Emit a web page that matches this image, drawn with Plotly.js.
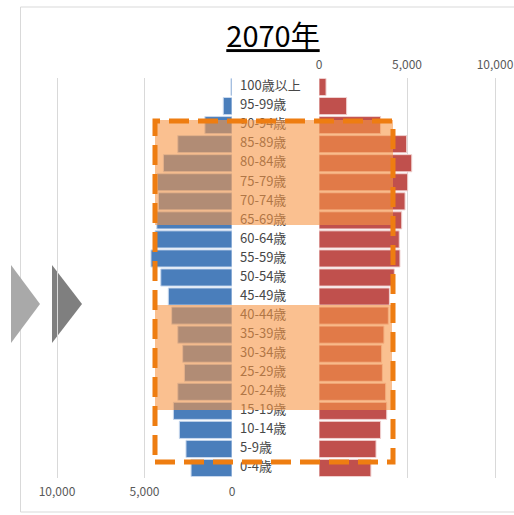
<!DOCTYPE html>
<html>
<head>
<meta charset="utf-8">
<script src="https://cdn.plot.ly/plotly-3.0.1.min.js"></script>
<style>html,body{margin:0;padding:0;background:#fff;}#chart{width:514px;height:515px;}</style>
</head>
<body>
<div id="chart"></div>
<script>
// Age groups, bottom to top
const ages = ['0-4歳','5-9歳','10-14歳','15-19歳','20-24歳','25-29歳','30-34歳','35-39歳','40-44歳','45-49歳','50-54歳','55-59歳','60-64歳','65-69歳','70-74歳','75-79歳','80-84歳','85-89歳','90-94歳','95-99歳','100歳以上'];
// Male population (left, blue)
const male = [2340,2630,3010,3350,3100,2720,2820,3100,3450,3640,4070,4630,4400,4300,4200,4270,3920,3100,1550,500,60];
// Female population (right, red)
const female = [2950,3240,3500,3850,3790,3600,3560,3690,3940,4000,4280,4600,4560,4700,4890,5040,5270,4980,3500,1570,400];
const maleTicks = [10000,5000,0];
const maleTickText = ['10,000','5,000','0'];
const femaleTicks = [0,5000,10000];
const femaleTickText = ['0','5,000','10,000'];
const title = '2070年';

const W = 514, H = 515;
const px = v => v / W;
const py = v => 1 - v / H;

const FONT = 'Noto Sans CJK JP, Noto Sans, sans-serif';

const traces = [
  {type:'bar', orientation:'h', y: ages, x: male, xaxis:'x', yaxis:'y',
   marker:{color:'#4a7ebb', line:{color:'#c9d9ee', width:1}}, hoverinfo:'skip'},
  {type:'bar', orientation:'h', y: ages, x: female, xaxis:'x2', yaxis:'y',
   marker:{color:'#c0504d', line:{color:'#f0d2d1', width:1}}, hoverinfo:'skip'},
  {type:'scatter', mode:'text', y: ages, x: ages.map(() => 240), xaxis:'x3', yaxis:'y',
   text: ages, textposition:'middle right', cliponaxis:false,
   textfont:{family:FONT, size:13, color:'#474747'}, hoverinfo:'skip'}
];

const yDom = [1 - 477.5 / H, 1 - 77.5 / H];

const layout = {
  width: W, height: H,
  margin:{l:0, r:0, t:0, b:0, pad:0},
  paper_bgcolor:'#fff', plot_bgcolor:'rgba(0,0,0,0)',
  showlegend:false,
  bargap:0.1,
  title:{text:'<u>' + title + '</u>', x: px(273), y: py(37), xanchor:'center', yanchor:'middle',
         font:{family:FONT, size:29, color:'#000'}},
  xaxis:{domain:[0, px(232)], range:[232/175*10000, 0], tickvals:maleTicks, ticktext:maleTickText,
         side:'bottom', showgrid:true, gridcolor:'#d9d9d9', zeroline:false, showline:false, ticks:'',
         ticklabelstandoff:5,
         tickfont:{family:FONT, size:12, color:'#595959'}, anchor:'y', fixedrange:true},
  xaxis2:{domain:[px(319), 1], range:[0, 195/176*10000], tickvals:femaleTicks, ticktext:femaleTickText,
          side:'top', showgrid:true, gridcolor:'#d9d9d9', zeroline:false, showline:false, ticks:'',
          ticklabelstandoff:5,
          tickfont:{family:FONT, size:12, color:'#595959'}, anchor:'y', fixedrange:true},
  xaxis3:{domain:[px(232), px(319)], range:[232, 319], visible:false, anchor:'y', fixedrange:true},
  yaxis:{domain:yDom, type:'category', categoryorder:'array', categoryarray:ages, range:[-0.5, 20.5],
         visible:false, fixedrange:true},
  shapes:[
    // frame
    {type:'rect', xref:'paper', yref:'paper', x0:px(20.5), x1:px(530), y0:py(512), y1:py(7),
     line:{color:'#d9d9d9', width:1}, layer:'below'},
    // chevrons
    {type:'path', xref:'paper', yref:'paper', layer:'below',
     path:`M ${px(11)} ${py(265)} L ${px(40)} ${py(304)} L ${px(11)} ${py(343)} Z`,
     fillcolor:'#a9a9a9', line:{width:0}},
    {type:'path', xref:'paper', yref:'paper', layer:'below',
     path:`M ${px(52)} ${py(265)} L ${px(82)} ${py(304)} L ${px(52)} ${py(343)} Z`,
     fillcolor:'#7f7f7f', line:{width:0}},
    // translucent highlight boxes
    {type:'rect', xref:'paper', yref:'paper', x0:px(155), x1:px(393), y0:py(225), y1:py(120),
     fillcolor:'rgba(247,150,70,0.6)', line:{width:0}, layer:'above'},
    {type:'rect', xref:'paper', yref:'paper', x0:px(155), x1:px(392), y0:py(410), y1:py(305),
     fillcolor:'rgba(247,150,70,0.6)', line:{width:0}, layer:'above'},
    // dashed border
    {type:'rect', xref:'paper', yref:'paper', x0:px(155), x1:px(393), y0:py(462), y1:py(121),
     line:{color:'#ee7d11', width:5, dash:'20px,9px'}, fillcolor:'rgba(0,0,0,0)', layer:'above'}
  ]
};

Plotly.newPlot('chart', traces, layout, {displayModeBar:false, staticPlot:true});
</script>
</body>
</html>
